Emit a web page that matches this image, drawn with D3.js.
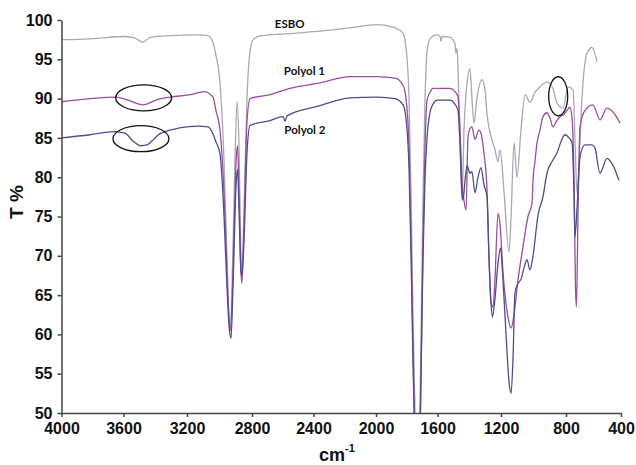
<!DOCTYPE html>
<html>
<head>
<meta charset="utf-8">
<script src="https://cdn.jsdelivr.net/npm/d3@7"></script>
<style>
  body { margin: 0; background: #fff; }
  .tick text { font-family: "Liberation Sans", Arial, sans-serif; font-weight: bold; font-size: 16px; fill: #111; }
  .axis path, .axis line { stroke: #444; stroke-width: 1.5; }
  .series { fill: none; stroke-width: 1.3; stroke-linejoin: round; }
  .lbl { font-family: Lato, "Open Sans", sans-serif; font-weight: bold; font-size: 11.5px; fill: #111; }
  .ring { fill: none; stroke: #111; stroke-width: 1.3; }
</style>
</head>
<body>
<script>
// chart size
var width = 636,
    height = 465;

// axis values
var xTickValues = [4000, 3600, 3200, 2800, 2400, 2000, 1600, 1200, 800, 400];
var yTickValues = [50, 55, 60, 65, 70, 75, 80, 85, 90, 95, 100];

// spectra [wavenumber, T %]
var esbo = [[4000,97.5],[3816,97.6],[3752,97.7],[3591,97.9],[3528,97.7],[3477,97.2],[3433,97.8],[3307,98.0],[3120,98.1],[3071,98.0],[3040,97.1],[3022,95.5],[2997,92],[2972,82],[2954,70],[2941,62],[2932,60.5],[2923,66],[2905,82],[2892,89.6],[2880,84],[2868,70],[2862,68],[2849,76],[2831,90],[2812,96],[2793,97.5],[2741,98],[2533,98.3],[2294,98.7],[2166,99],[1993,99.4],[1876,99],[1824,98.3],[1805,96.5],[1785,90],[1772,78],[1759,62],[1746,50],[1733,44],[1720,46],[1707,60],[1694,78],[1681,90],[1668,96],[1649,97.6],[1603,98.1],[1584,97.9],[1578,97.3],[1571,97.9],[1521,97.8],[1490,97],[1484,95.8],[1477,96.4],[1471,94],[1458,85],[1446,77],[1433,86],[1414,92],[1395,93.8],[1383,90],[1370,86.9],[1352,90],[1320,92.4],[1300,91],[1288,88],[1238,83.5],[1219,82],[1206,83.5],[1181,78],[1151,70.5],[1138,75],[1120,84.4],[1102,80],[1077,86],[1052,90.5],[1022,89.5],[991,90.8],[960,91.5],[917,92.1],[880,91.3],[855,89.4],[818,88.8],[785,91.5],[749,91.1],[735,85],[720,78],[705,82],[684,90],[647,95.8],[611,96.5],[575,94.7]];

var polyol1 = [[4000,89.6],[3816,90.0],[3648,90.2],[3572,89.8],[3477,89.2],[3383,89.9],[3301,90.2],[3182,90.5],[3095,90.9],[3040,90.2],[3022,88.5],[2997,86],[2972,78],[2954,68],[2941,62],[2932,60.5],[2917,68],[2898,82],[2889,84],[2880,78],[2868,68],[2862,66.5],[2849,74],[2831,87],[2812,90],[2683,90.5],[2553,91.3],[2358,92],[2166,92.8],[1993,92.8],[1876,92.6],[1824,91.7],[1805,90],[1785,84],[1772,72],[1759,58],[1746,46],[1733,40],[1720,42],[1707,55],[1694,72],[1681,84],[1668,89.8],[1649,90.8],[1629,91.3],[1521,91.3],[1490,90.9],[1471,90.2],[1458,86],[1446,79.6],[1433,77],[1420,75.8],[1408,85.1],[1395,86.2],[1383,86.4],[1364,84.8],[1339,86],[1326,85.6],[1307,83],[1288,78.4],[1276,70],[1263,64],[1250,63.5],[1238,67],[1219,75.4],[1206,74],[1188,68],[1163,63],[1138,60.8],[1120,62.5],[1095,67],[1065,71.1],[1034,75],[1009,76.7],[1003,79.6],[991,82],[978,84.4],[960,86],[942,87.7],[917,88.2],[898,87.5],[880,86.4],[862,87],[837,87.7],[812,88],[793,88.5],[771,88.9],[756,87.5],[742,80],[731,66],[724,63.5],[713,75],[698,86.4],[662,88.5],[604,89.2],[553,87.3],[502,88.8],[458,88.3],[407,86.9]];

var polyol2 = [[4000,85],[3816,85.4],[3661,85.8],[3591,85.6],[3540,84.6],[3490,84],[3452,84.1],[3421,84.6],[3364,85.6],[3132,86.5],[3071,86.4],[3040,85.5],[3022,84.5],[2997,83],[2972,75],[2954,66],[2941,61],[2929,59.5],[2917,66],[2898,79],[2889,81],[2880,76],[2868,68],[2862,67.5],[2849,72],[2831,83],[2812,86.6],[2683,87.2],[2598,87.7],[2585,87.1],[2572,87.8],[2378,89],[2166,90.1],[1993,90.2],[1876,90],[1824,89.2],[1805,87.5],[1785,81],[1772,70],[1759,56],[1746,45],[1733,38],[1720,41],[1707,55],[1694,70],[1681,80],[1668,85],[1649,88.2],[1629,89.3],[1603,89.8],[1521,89.8],[1490,89.3],[1471,88.5],[1458,84],[1446,78],[1439,77.1],[1427,79.5],[1414,81.5],[1395,80.5],[1383,80.7],[1364,78],[1345,80],[1326,81.2],[1307,79],[1288,77.5],[1276,70],[1263,64],[1254,62.2],[1238,64.5],[1219,69],[1203,71],[1188,67],[1169,60],[1151,54],[1138,52.5],[1126,57],[1114,65.3],[1095,66.5],[1077,67],[1058,68.5],[1040,69.5],[1022,68.2],[1003,70],[972,75.2],[942,77.5],[917,80.5],[886,82],[855,83.1],[831,84.5],[806,85.4],[778,85],[756,84.4],[742,78],[735,72.4],[720,76],[698,82.6],[662,84.1],[611,84.1],[589,83.7],[553,80.5],[502,82.4],[458,81.5],[415,79.6]];

var seriesNames = ["ESBO", "Polyol 1", "Polyol 2"];
var seriesColors = ["#a9a9b3", "#9a4e9e", "#4e4e8c"];

// the printed axis is slightly uneven, so each tick gets its own pixel spot
var xTickPos = [61.5, 123.5, 187, 252, 313.5, 376, 437.5, 501, 566, 621];
var x = d3.scaleLinear().domain(xTickValues).range(xTickPos);
var y = d3.scaleLinear().domain([50, 100]).range([413, 20]);

var svg = d3.select("body")
    .append("svg")
    .attr("width", width)
    .attr("height", height);

svg.append("defs").append("clipPath")
    .attr("id", "plot")
    .append("rect")
    .attr("x", 61.5).attr("y", 0)
    .attr("width", 600).attr("height", 413);

var line = d3.line()
    .x(function(d) { return x(d[0]); })
    .y(function(d) { return y(d[1]); })
    .curve(d3.curveMonotoneX);

var plot = svg.append("g").attr("clip-path", "url(#plot)");
[esbo, polyol1, polyol2].forEach(function(s, i) {
    plot.append("path")
        .datum(s)
        .attr("class", "series")
        .attr("stroke", seriesColors[i])
        .attr("d", line);
});

// axes
svg.append("g")
    .attr("class", "axis")
    .attr("transform", "translate(0," + y(50) + ")")
    .call(d3.axisBottom(x).tickValues(xTickValues).tickFormat(d3.format("d"))
        .tickSize(4).tickPadding(6).tickSizeOuter(0));

svg.append("g")
    .attr("class", "axis")
    .attr("transform", "translate(" + x(4000) + ",0)")
    .call(d3.axisLeft(y).tickValues(yTickValues).tickSize(4).tickPadding(5).tickSizeOuter(0));

// series labels
var labelSpots = [[2555, 99.5], [2459, 93.55], [2456, 86.0]];
seriesNames.forEach(function(n, i) {
    svg.append("text")
        .attr("class", "lbl")
        .attr("x", x(labelSpots[i][0]))
        .attr("y", y(labelSpots[i][1]))
        .attr("dy", "0.35em")
        .attr("text-anchor", "middle")
        .text(n);
});

// the three marked spots
var rings = [[3473, 90.1, 28, 13], [3490, 84.9, 28, 13], [848, 90.3, 9.5, 19.5]];
rings.forEach(function(r) {
    svg.append("ellipse")
        .attr("class", "ring")
        .attr("cx", x(r[0]))
        .attr("cy", y(r[1]))
        .attr("rx", r[2])
        .attr("ry", r[3]);
});

// axis titles
var xTitle = svg.append("text")
    .attr("x", 337)
    .attr("y", 461)
    .attr("text-anchor", "middle")
    .style("font-family", "Liberation Sans, Arial, sans-serif")
    .style("font-weight", "bold")
    .style("font-size", "18px")
    .attr("fill", "#111");
xTitle.append("tspan").text("cm");
xTitle.append("tspan").attr("dy", -9).style("font-size", "11px").text("-1");

svg.append("text")
    .attr("transform", "translate(23,202) rotate(-90)")
    .attr("text-anchor", "middle")
    .style("font-family", "Liberation Sans, Arial, sans-serif")
    .style("font-weight", "bold")
    .style("font-size", "19px")
    .attr("fill", "#111")
    .text("T %");
</script>
</body>
</html>
